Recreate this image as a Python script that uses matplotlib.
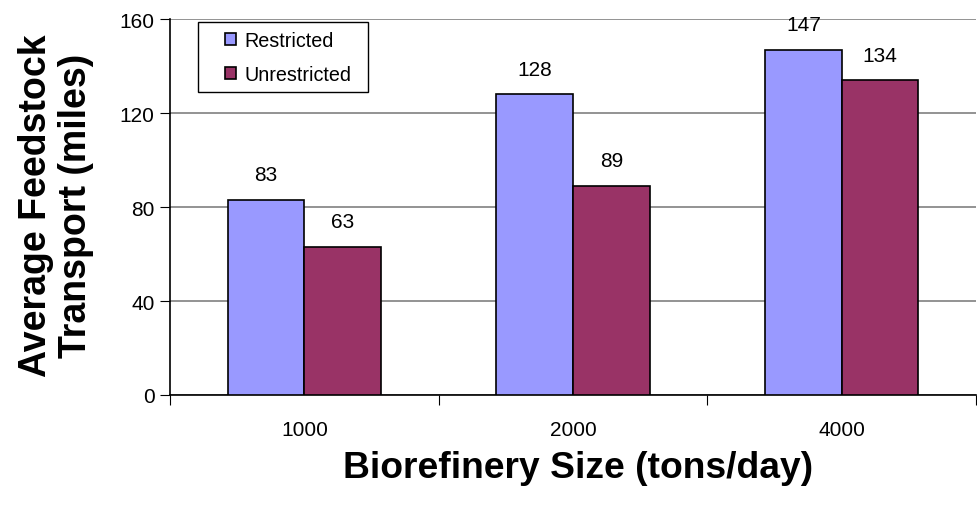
import numpy as np
import matplotlib.pyplot as plt
from matplotlib.patches import Rectangle

# données
sizes = ["1000", "2000", "4000"]
restricted = [83, 128, 147]
unrestricted = [63, 89, 134]
y_ticks = [0, 40, 80, 120, 160]

plt.rcParams['font.family'] = ['Liberation Sans', 'DejaVu Sans']

fig = plt.figure(figsize=(9.77, 5.06), dpi=100)
ax = fig.add_axes([170 / 977, 110 / 506, 806 / 977, 376 / 506])

x = np.arange(len(sizes))
w = 0.285

b1 = ax.bar(x - w / 2, restricted, w, color="#9999FF", edgecolor="black",
            linewidth=1.2, label="Restricted", zorder=3)
b2 = ax.bar(x + w / 2, unrestricted, w, color="#993366", edgecolor="black",
            linewidth=1.2, label="Unrestricted", zorder=3)

for bars, vals in [(b1, restricted), (b2, unrestricted)]:
    for bar, v in zip(bars, vals):
        ax.annotate(str(v), (bar.get_x() + bar.get_width() / 2, v),
                    xytext=(0, 18), textcoords="offset points",
                    ha="center", va="center", fontsize=15)

ax.set_xlim(-0.5, 2.5)
ax.set_ylim(0, 160)
ax.set_yticks(y_ticks)
ax.set_yticklabels([str(t) for t in y_ticks], fontsize=15)

# graduations entre les catégories, étiquettes au centre
ax.set_xticks([-0.5, 0.5, 1.5, 2.5])
ax.set_xticklabels([])
ax.set_xticks(x, minor=True)
ax.set_xticklabels(sizes, minor=True, fontsize=15)
ax.tick_params(axis="x", which="major", length=7, direction="out", color="black")
ax.tick_params(axis="x", which="minor", length=0, pad=18)
ax.tick_params(axis="y", length=7, direction="out", color="black", pad=4)

ax.grid(axis="y", color="#808080", linewidth=1.2, zorder=0)
ax.set_axisbelow(True)
for s in ["top", "right"]:
    ax.spines[s].set_visible(False)
for s in ["left", "bottom"]:
    ax.spines[s].set_color("black")
    ax.spines[s].set_linewidth(1.2)

# titres des axes
fig.text(56 / 977, 1 - 206 / 506, "Average Feedstock\nTransport (miles)",
         rotation=90, ha="center", va="center", fontsize=27,
         fontweight="bold", linespacing=1.15)
fig.text(578 / 977, 1 - 469 / 506, "Biorefinery Size (tons/day)",
         ha="center", va="center", fontsize=26.8, fontweight="bold")

# légende : cadre dessiné à part
ax.add_patch(Rectangle((0.0347, 0.806), 0.211, 0.186, transform=ax.transAxes,
                       facecolor="white", edgecolor="black", linewidth=1.0,
                       zorder=4))
leg = ax.legend(loc="upper left", bbox_to_anchor=(0.068, 0.968), fontsize=14.2,
                frameon=False, handlelength=0.55, handleheight=0.55,
                handletextpad=0.45, labelspacing=0.75, borderpad=0,
                borderaxespad=0)
leg.set_zorder(5)

fig.savefig("out.png", dpi=100)
